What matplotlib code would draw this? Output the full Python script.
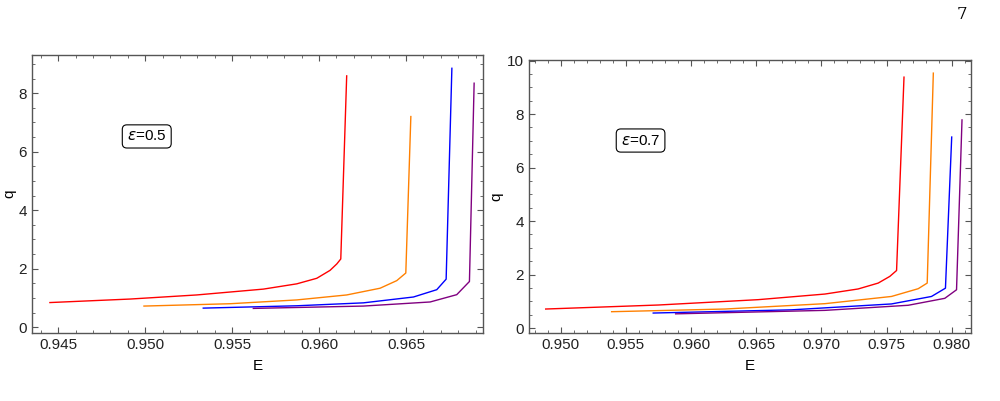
import matplotlib
matplotlib.use("Agg")
import matplotlib.pyplot as plt
from matplotlib.ticker import MultipleLocator

plt.rcParams['font.family'] = ['Liberation Sans', 'DejaVu Sans']

colors = ['#ff0000', '#ff8000', '#0000ff', '#800080']

# eps = 0.5 panel
E1_red = [0.94452, 0.94913, 0.95296, 0.95680, 0.95872, 0.95987, 0.96063, 0.96102, 0.96125, 0.96159]
q1_red = [0.84, 0.96, 1.10, 1.30, 1.48, 1.67, 1.94, 2.16, 2.33, 8.59]
E1_orange = [0.94993, 0.95488, 0.95872, 0.96159, 0.96351, 0.96447, 0.96499, 0.96528]
q1_orange = [0.72, 0.80, 0.93, 1.10, 1.33, 1.59, 1.85, 7.20]
E1_blue = [0.95334, 0.95872, 0.96255, 0.96543, 0.96677, 0.96731, 0.96764]
q1_blue = [0.65, 0.73, 0.83, 1.03, 1.28, 1.64, 8.85]
E1_purple = [0.95622, 0.96255, 0.96639, 0.96792, 0.96865, 0.96892]
q1_purple = [0.64, 0.72, 0.86, 1.11, 1.56, 8.34]

# eps = 0.7 panel
E2_red = [0.94885, 0.95749, 0.96515, 0.97027, 0.97282, 0.97436, 0.97525, 0.97577, 0.97634]
q2_red = [0.71, 0.86, 1.06, 1.27, 1.46, 1.68, 1.93, 2.15, 9.38]
E2_orange = [0.95391, 0.96260, 0.97027, 0.97538, 0.97743, 0.97812, 0.97859]
q2_orange = [0.61, 0.71, 0.91, 1.18, 1.47, 1.68, 9.53]
E2_blue = [0.95710, 0.96772, 0.97538, 0.97845, 0.97952, 0.98000]
q2_blue = [0.56, 0.68, 0.90, 1.18, 1.49, 7.14]
E2_purple = [0.95882, 0.97027, 0.97666, 0.97947, 0.98037, 0.98079]
q2_purple = [0.53, 0.66, 0.85, 1.11, 1.43, 7.78]

fig = plt.figure(figsize=(10, 4.01), dpi=100)
ax1 = fig.add_axes([0.032, 0.170, 0.451, 0.694])
ax2 = fig.add_axes([0.529, 0.170, 0.442, 0.681])


def style(ax, ylab_x):
    for s in ax.spines.values():
        s.set_color('#555555')
        s.set_linewidth(1.0)
    ax.tick_params(which='both', direction='in', top=True, right=True,
                   colors='#555555', labelcolor='#222222', labelsize=11)
    ax.tick_params(which='major', length=4)
    ax.tick_params(which='minor', length=2)
    ax.set_xlabel('E', fontsize=11, labelpad=5)
    ax.set_ylabel('q', fontsize=11)
    ax.yaxis.set_label_coords(ylab_x, 0.5)


# 左パネル
for E, q, c in zip([E1_red, E1_orange, E1_blue, E1_purple],
                   [q1_red, q1_orange, q1_blue, q1_purple], colors):
    ax1.plot(E, q, color=c, lw=1.0)
ax1.set_xlim(0.94349, 0.96943)
ax1.set_ylim(-0.195, 9.32)
ax1.xaxis.set_major_locator(MultipleLocator(0.005))
ax1.xaxis.set_minor_locator(MultipleLocator(0.001))
ax1.yaxis.set_major_locator(MultipleLocator(2))
ax1.yaxis.set_minor_locator(MultipleLocator(0.5))
ax1.xaxis.set_major_formatter(plt.FormatStrFormatter('%.3f'))
style(ax1, -0.034)
ax1.text(0.95009, 6.52, r'$\epsilon$=0.5', fontsize=11, ha='center', va='center',
         bbox=dict(boxstyle='round,pad=0.3', fc='white', ec='black', lw=0.8))

# 右パネル
for E, q, c in zip([E2_red, E2_orange, E2_blue, E2_purple],
                   [q2_red, q2_orange, q2_blue, q2_purple], colors):
    ax2.plot(E, q, color=c, lw=1.0)
ax2.set_xlim(0.94757, 0.98148)
ax2.set_ylim(-0.18, 10.03)
ax2.xaxis.set_major_locator(MultipleLocator(0.005))
ax2.xaxis.set_minor_locator(MultipleLocator(0.001))
ax2.yaxis.set_major_locator(MultipleLocator(2))
ax2.yaxis.set_minor_locator(MultipleLocator(0.5))
ax2.xaxis.set_major_formatter(plt.FormatStrFormatter('%.3f'))
style(ax2, -0.057)
ax2.text(0.95613, 7.01, r'$\epsilon$=0.7', fontsize=11, ha='center', va='center',
         bbox=dict(boxstyle='round,pad=0.3', fc='white', ec='black', lw=0.8))

fig.text(0.962, 0.965, '7', fontsize=12, ha='center', va='center', family='DejaVu Serif')

fig.savefig('out.png', dpi=100)
